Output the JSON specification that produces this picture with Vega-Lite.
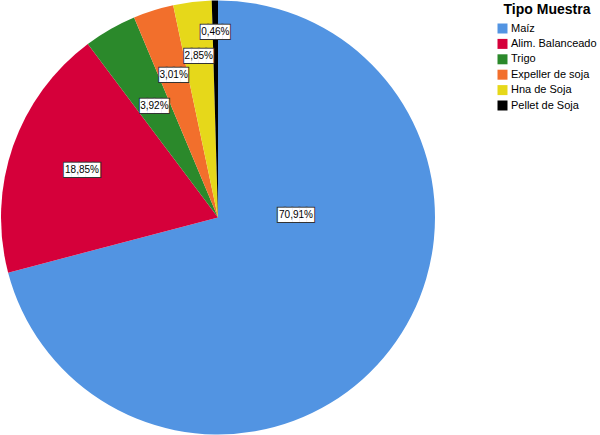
{
  "$schema": "https://vega.github.io/schema/vega-lite/v6.json",
  "width": 436,
  "height": 435,
  "padding": 0,
  "autosize": {"type": "pad"},
  "background": "white",
  "config": {"view": {"stroke": null}},
  "data": {
    "values": [
      {"Tipo": "Maíz", "pct": 70.91, "label": "70,91%", "order": 1},
      {"Tipo": "Alim. Balanceado", "pct": 18.85, "label": "18,85%", "order": 2},
      {"Tipo": "Trigo", "pct": 3.92, "label": "3,92%", "order": 3},
      {"Tipo": "Expeller de soja", "pct": 3.01, "label": "3,01%", "order": 4},
      {"Tipo": "Hna de Soja", "pct": 2.85, "label": "2,85%", "order": 5},
      {"Tipo": "Pellet de Soja", "pct": 0.46, "label": "0,46%", "order": 6}
    ]
  },
  "layer": [
    {
      "mark": {"type": "arc", "radius": 217},
      "encoding": {
        "theta": {"field": "pct", "type": "quantitative", "stack": true},
        "order": {"field": "order", "type": "quantitative"},
        "color": {
          "field": "Tipo",
          "type": "nominal",
          "scale": {
            "domain": ["Maíz", "Alim. Balanceado", "Trigo", "Expeller de soja", "Hna de Soja", "Pellet de Soja"],
            "range": ["#5294e2", "#d5003a", "#2b892b", "#f26f2c", "#e6d81a", "#000000"]
          },
          "sort": null,
          "legend": {
            "title": "Tipo Muestra",
            "orient": "none",
            "legendX": 497,
            "legendY": 3,
            "padding": 0,
            "titleFont": "Liberation Sans",
            "titleFontSize": 14,
            "titleFontWeight": "bold",
            "titleColor": "#000000",
            "titleAnchor": "middle",
            "titlePadding": 6,
            "labelFont": "Liberation Sans",
            "labelFontSize": 11,
            "labelColor": "#000000",
            "labelOffset": 3,
            "symbolType": "square",
            "symbolSize": 100,
            "symbolStrokeWidth": 0,
            "rowPadding": 3.4
          }
        }
      }
    },
    {
      "encoding": {
        "theta": {"field": "pct", "type": "quantitative", "stack": true},
        "order": {"field": "order", "type": "quantitative"},
        "detail": {"field": "Tipo", "type": "nominal"}
      },
      "layer": [
        {
          "encoding": {
            "radius": {"value": 78},
            "opacity": {"condition": {"test": "datum.Tipo !== 'Maíz'", "value": 0}, "value": 1}
          },
          "layer": [
            {
              "mark": {"type": "text", "font": "DejaVu Sans Mono", "fontSize": 12, "fill": "#333333", "stroke": "#333333", "strokeWidth": 2, "align": "center", "baseline": "middle", "thetaOffset": -0.69},
              "encoding": {"text": {"value": "\u2588\u2588\u2588\u2588\u2588"}}
            },
            {
              "mark": {"type": "text", "font": "DejaVu Sans Mono", "fontSize": 12, "fill": "#ffffff", "align": "center", "baseline": "middle", "thetaOffset": -0.69},
              "encoding": {"text": {"value": "\u2588\u2588\u2588\u2588\u2588"}}
            },
            {
              "mark": {"type": "text", "font": "Liberation Sans", "fontSize": 10, "fill": "#000000", "align": "center", "baseline": "middle", "thetaOffset": -0.69},
              "encoding": {"text": {"field": "label", "type": "nominal"}}
            }
          ]
        },
        {
          "encoding": {
            "radius": {"value": 144},
            "opacity": {"condition": {"test": "datum.Tipo !== 'Alim. Balanceado'", "value": 0}, "value": 1}
          },
          "layer": [
            {
              "mark": {"type": "text", "font": "DejaVu Sans Mono", "fontSize": 12, "fill": "#333333", "stroke": "#333333", "strokeWidth": 2, "align": "center", "baseline": "middle"},
              "encoding": {"text": {"value": "\u2588\u2588\u2588\u2588\u2588"}}
            },
            {
              "mark": {"type": "text", "font": "DejaVu Sans Mono", "fontSize": 12, "fill": "#ffffff", "align": "center", "baseline": "middle"},
              "encoding": {"text": {"value": "\u2588\u2588\u2588\u2588\u2588"}}
            },
            {
              "mark": {"type": "text", "font": "Liberation Sans", "fontSize": 10, "fill": "#000000", "align": "center", "baseline": "middle"},
              "encoding": {"text": {"field": "label", "type": "nominal"}}
            }
          ]
        },
        {
          "encoding": {
            "radius": {"value": 128},
            "opacity": {"condition": {"test": "datum.Tipo !== 'Trigo'", "value": 0}, "value": 1}
          },
          "layer": [
            {
              "mark": {"type": "text", "font": "DejaVu Sans Mono", "fontSize": 12, "fill": "#333333", "stroke": "#333333", "strokeWidth": 2, "align": "center", "baseline": "middle"},
              "encoding": {"text": {"value": "\u2588\u2588\u2588\u2588"}}
            },
            {
              "mark": {"type": "text", "font": "DejaVu Sans Mono", "fontSize": 12, "fill": "#ffffff", "align": "center", "baseline": "middle"},
              "encoding": {"text": {"value": "\u2588\u2588\u2588\u2588"}}
            },
            {
              "mark": {"type": "text", "font": "Liberation Sans", "fontSize": 10, "fill": "#000000", "align": "center", "baseline": "middle"},
              "encoding": {"text": {"field": "label", "type": "nominal"}}
            }
          ]
        },
        {
          "encoding": {
            "radius": {"value": 149},
            "opacity": {"condition": {"test": "datum.Tipo !== 'Expeller de soja'", "value": 0}, "value": 1}
          },
          "layer": [
            {
              "mark": {"type": "text", "font": "DejaVu Sans Mono", "fontSize": 12, "fill": "#333333", "stroke": "#333333", "strokeWidth": 2, "align": "center", "baseline": "middle"},
              "encoding": {"text": {"value": "\u2588\u2588\u2588\u2588"}}
            },
            {
              "mark": {"type": "text", "font": "DejaVu Sans Mono", "fontSize": 12, "fill": "#ffffff", "align": "center", "baseline": "middle"},
              "encoding": {"text": {"value": "\u2588\u2588\u2588\u2588"}}
            },
            {
              "mark": {"type": "text", "font": "Liberation Sans", "fontSize": 10, "fill": "#000000", "align": "center", "baseline": "middle"},
              "encoding": {"text": {"field": "label", "type": "nominal"}}
            }
          ]
        },
        {
          "encoding": {
            "radius": {"value": 163},
            "opacity": {"condition": {"test": "datum.Tipo !== 'Hna de Soja'", "value": 0}, "value": 1}
          },
          "layer": [
            {
              "mark": {"type": "text", "font": "DejaVu Sans Mono", "fontSize": 12, "fill": "#333333", "stroke": "#333333", "strokeWidth": 2, "align": "center", "baseline": "middle"},
              "encoding": {"text": {"value": "\u2588\u2588\u2588\u2588"}}
            },
            {
              "mark": {"type": "text", "font": "DejaVu Sans Mono", "fontSize": 12, "fill": "#ffffff", "align": "center", "baseline": "middle"},
              "encoding": {"text": {"value": "\u2588\u2588\u2588\u2588"}}
            },
            {
              "mark": {"type": "text", "font": "Liberation Sans", "fontSize": 10, "fill": "#000000", "align": "center", "baseline": "middle"},
              "encoding": {"text": {"field": "label", "type": "nominal"}}
            }
          ]
        },
        {
          "encoding": {
            "radius": {"value": 186},
            "opacity": {"condition": {"test": "datum.Tipo !== 'Pellet de Soja'", "value": 0}, "value": 1}
          },
          "layer": [
            {
              "mark": {"type": "text", "font": "DejaVu Sans Mono", "fontSize": 12, "fill": "#333333", "stroke": "#333333", "strokeWidth": 2, "align": "center", "baseline": "middle"},
              "encoding": {"text": {"value": "\u2588\u2588\u2588\u2588"}}
            },
            {
              "mark": {"type": "text", "font": "DejaVu Sans Mono", "fontSize": 12, "fill": "#ffffff", "align": "center", "baseline": "middle"},
              "encoding": {"text": {"value": "\u2588\u2588\u2588\u2588"}}
            },
            {
              "mark": {"type": "text", "font": "Liberation Sans", "fontSize": 10, "fill": "#000000", "align": "center", "baseline": "middle"},
              "encoding": {"text": {"field": "label", "type": "nominal"}}
            }
          ]
        }
      ]
    }
  ]
}
